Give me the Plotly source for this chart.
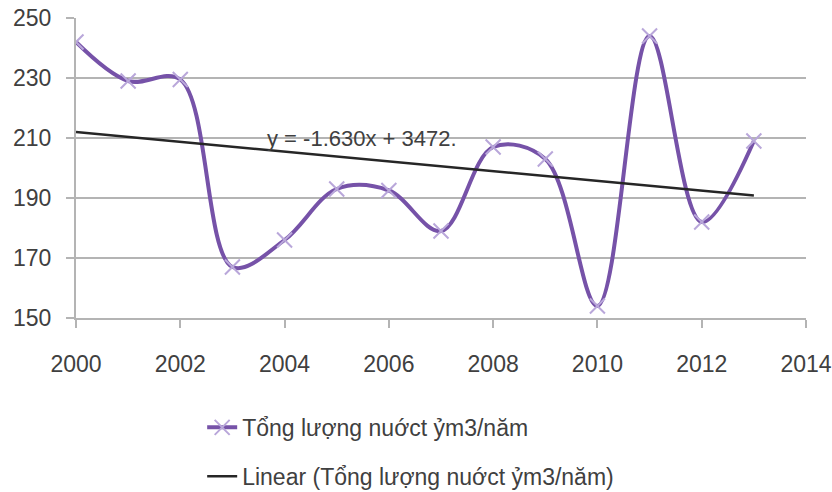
import plotly.graph_objects as go

# Annual water volume series
years = [2000, 2001, 2002, 2003, 2004, 2005, 2006, 2007, 2008, 2009, 2010, 2011, 2012, 2013]
volume = [242, 229, 229.5, 167, 176, 193, 192.5, 179, 207, 203, 154, 244, 182, 209]

# Linear trend coefficients (as printed on the chart)
trend_slope = -1.630
trend_intercept = 3472

series_name = "Tổng lượng nuớct ỷm3/năm"
trend_name = "Linear (Tổng lượng nuớct ỷm3/năm)"
trend_label = "y = -1.630x + 3472."

x_ticks = [2000, 2002, 2004, 2006, 2008, 2010, 2012, 2014]
y_ticks = [150, 170, 190, 210, 230, 250]

trend_x = [years[0], years[-1]]
trend_y = [trend_slope * x + trend_intercept for x in trend_x]

FONT = "Liberation Sans"
GRID = "#B4B4B4"
TEXT = "#404040"

fig = go.Figure()
fig.add_trace(go.Scatter(
    x=years, y=volume, name=series_name, mode="lines+markers",
    line=dict(color="#7652A8", width=4, shape="spline", smoothing=1.0),
    marker=dict(symbol="x-thin", size=15, line=dict(color="#B9A7DA", width=2), color="#B9A7DA"),
    legendgroup="a",
))
fig.add_trace(go.Scatter(
    x=trend_x, y=trend_y, name=trend_name, mode="lines",
    line=dict(color="#262626", width=2.5),
    legendgroup="b",
))

fig.add_annotation(
    x=2003.62, y=209.7, xref="x", yref="y", text=trend_label, showarrow=False,
    xanchor="left", yanchor="middle", font=dict(family=FONT, size=22, color=TEXT),
)

fig.update_layout(
    width=832, height=492,
    margin=dict(l=76, r=26, t=18, b=174, autoexpand=False),
    paper_bgcolor="white", plot_bgcolor="white",
    font=dict(family=FONT, size=22, color=TEXT),
    showlegend=True,
    legend=dict(
        xref="container", yref="container", x=0.243, y=0.175,
        xanchor="left", yanchor="top", tracegroupgap=16,
        font=dict(family=FONT, size=23, color=TEXT),
        bgcolor="rgba(0,0,0,0)",
    ),
)
fig.update_xaxes(
    range=[2000, 2014], tickvals=x_ticks, showgrid=False, zeroline=False,
    showline=True, linecolor=GRID, linewidth=2, tickangle=0, automargin=False,
    ticks="outside", ticklen=8, tickwidth=2, tickcolor=GRID,
    ticklabelstandoff=16, tickfont=dict(family=FONT, size=23, color=TEXT),
)
fig.update_yaxes(
    range=[150, 250], tickvals=y_ticks, showgrid=True, gridcolor=GRID, gridwidth=2,
    zeroline=False, showline=True, linecolor=GRID, linewidth=2, automargin=False,
    ticks="outside", ticklen=8, tickwidth=2, tickcolor=GRID,
    ticklabelstandoff=10, tickfont=dict(family=FONT, size=23, color=TEXT),
)

fig.write_html("out.html")
